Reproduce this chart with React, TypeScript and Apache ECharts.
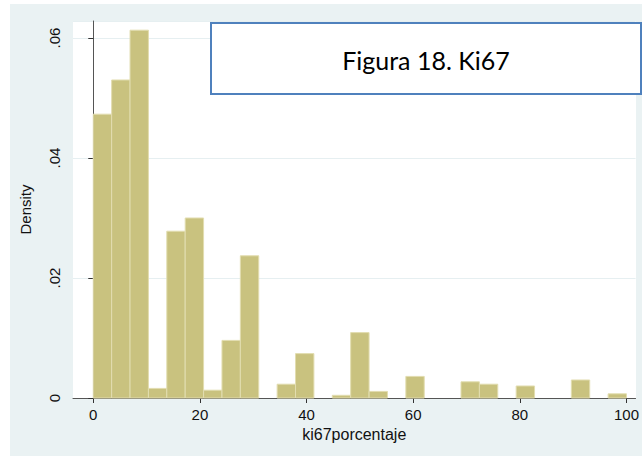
import React, { useEffect, useRef } from "react";
import * as echarts from "echarts";

// Histogram bins (lower edge of each bin) and bin width
const binStarts = [
  0, 3.448, 6.897, 10.345, 13.793, 17.241, 20.69, 24.138, 27.586, 31.034,
  34.483, 37.931, 41.379, 44.828, 48.276, 51.724, 55.172, 58.621, 62.069,
  65.517, 68.966, 72.414, 75.862, 79.31, 82.759, 86.207, 89.655, 93.103, 96.552,
];
const binWidth = 3.448;
const densities = [
  0.0473, 0.053, 0.0613, 0.0016, 0.0278, 0.03, 0.0013, 0.0096, 0.0237, 0,
  0.0023, 0.0074, 0, 0.00045, 0.0109, 0.0011, 0, 0.0036, 0, 0, 0.0027, 0.0023,
  0, 0.002, 0, 0, 0.003, 0, 0.0007,
];
const xTicks = [0, 20, 40, 60, 80, 100];
const xTitle = "ki67porcentaje";
const yTitle = "Density";
const noteText = "Figura 18. Ki67";

export default function App() {
  const ref = useRef<HTMLDivElement>(null);
  useEffect(() => {
    if (!ref.current) return;
    const chart = echarts.init(ref.current, undefined, { renderer: "svg" });
    const data = binStarts
      .map((s, i) => [s, s + binWidth, densities[i]])
      .filter((d) => d[2] > 0);
    const font = "'Liberation Sans', Arial, sans-serif";
    const option: any = {
      animation: false,
      backgroundColor: "#ffffff",
      graphic: [
        {
          type: "rect",
          z: -20,
          silent: true,
          shape: { x: 10, y: 4, width: 632, height: 452 },
          style: { fill: "#eaf2f3" },
        },
        {
          type: "rect",
          z: -19,
          silent: true,
          shape: { x: 73, y: 21, width: 563, height: 377 },
          style: { fill: "#ffffff" },
        },
        {
          type: "rect",
          z: 100,
          shape: { x: 211, y: 23, width: 430, height: 71 },
          style: { fill: "#ffffff", stroke: "#4f81bd", lineWidth: 2 },
        },
        {
          type: "text",
          z: 101,
          x: 426,
          y: 60,
          style: {
            text: noteText,
            fill: "#000000",
            font: "25px Lato, 'Open Sans', sans-serif",
            align: "center",
            verticalAlign: "middle",
          },
        },
      ],
      grid: { left: 73, top: 21, right: 6, bottom: 59, containLabel: false },
      xAxis: {
        type: "value",
        min: -3.8,
        max: 101.7,
        name: xTitle,
        nameLocation: "middle",
        nameGap: 25,
        nameTextStyle: { color: "#111", fontSize: 16, fontFamily: font },
        axisLine: { show: true, onZero: false, lineStyle: { color: "#555", width: 1 } },
        axisTick: { show: true, customValues: xTicks, length: 5, lineStyle: { color: "#333" } },
        axisLabel: {
          customValues: xTicks,
          color: "#111",
          fontSize: 15,
          fontFamily: font,
          margin: 9,
          formatter: (v: number) => String(v),
        },
        splitLine: { show: false },
      },
      yAxis: {
        type: "value",
        min: 0,
        max: 0.06283,
        interval: 0.02,
        name: yTitle,
        nameLocation: "middle",
        nameRotate: 90,
        nameGap: 40,
        nameTextStyle: { color: "#111", fontSize: 15, fontFamily: font },
        axisLine: { show: true, lineStyle: { color: "#555", width: 1 } },
        axisTick: { show: true, length: 5, lineStyle: { color: "#333" } },
        axisLabel: {
          rotate: 90,
          color: "#111",
          fontSize: 15,
          fontFamily: font,
          margin: 11,
          showMaxLabel: false,
          formatter: (v: number) => (v === 0 ? "0" : v.toFixed(2).replace(/^0/, "")),
        },
        splitLine: { show: true, lineStyle: { color: "#e6eff1", width: 1 } },
      },
      series: [
        {
          type: "custom",
          encode: { x: [0, 1], y: 2 },
          data,
          renderItem: (params: any, api: any) => {
            const p0 = api.coord([api.value(0), api.value(2)]);
            const p1 = api.coord([api.value(1), 0]);
            return {
              type: "rect",
              shape: { x: p0[0], y: p0[1], width: p1[0] - p0[0], height: p1[1] - p0[1] },
              style: { fill: "#c9c27f", stroke: "#e2ddb0", lineWidth: 1 },
            };
          },
        },
      ],
    };
    chart.setOption(option);
    return () => chart.dispose();
  }, []);
  return (
    <div
      ref={ref}
      style={{ position: "fixed", left: 0, top: 0, width: 642, height: 457 }}
    />
  );
}
